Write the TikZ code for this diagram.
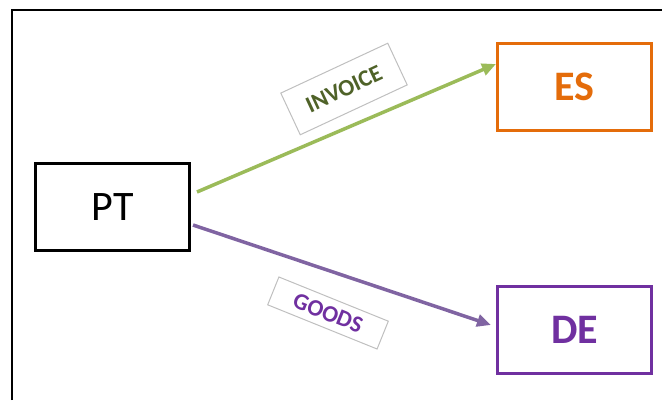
\documentclass[tikz,border=0pt]{standalone}
\usepackage{fontspec}
\setmainfont{Carlito}
\usetikzlibrary{arrows.meta}
\definecolor{esorange}{HTML}{E46C0A}
\definecolor{depurple}{HTML}{7030A0}
\definecolor{invgreen}{HTML}{9BBB59}
\definecolor{invtext}{HTML}{4F6228}
\definecolor{gdsline}{HTML}{8064A2}
\definecolor{tagline}{HTML}{BFBFBF}
\tikzstyle{country}=[shape=rectangle, draw, line width=3pt, minimum width=154pt, minimum height=87pt, inner sep=0pt, font=\fontsize{42}{50}\selectfont]
\tikzset{tag/.style={draw=tagline, line width=1pt, minimum width=118pt, inner sep=0pt, font=\fontsize{23.5}{28}\selectfont\bfseries}}
\tikzset{flow/.style={line width=3.5pt, -{Triangle[length=14pt,width=12pt]}}}

\begin{document}
\begin{tikzpicture}[x=1pt,y=1pt]
	\useasboundingbox (0,0) rectangle (662,400);
	\draw [line width=2.2pt] (12,0) -- (12,390) -- (662,390);
	\node [style=country] (pt) at (112.5,193) {PT};
	\node [style=country, draw=esorange, text=esorange, font=\fontsize{42}{50}\selectfont\bfseries] (es) at (574.5,313) {ES};
	\node [style=country, draw=depurple, text=depurple, font=\fontsize{42}{50}\selectfont\bfseries] (de) at (574.5,70) {DE};
	\node [style=tag, minimum height=46pt, text=invtext, rotate=25] (inv) at (344,311) {INVOICE};
	\node [style=tag, minimum height=30pt, text=depurple, rotate=-22] (gds) at (328,87) {GOODS};
	\draw [style=flow, invgreen] ([shift={(6,15)}]pt.east) to ([yshift=23]es.west);
	\draw [style=flow, gdsline] ([shift={(2,-18)}]pt.east) to ([shift={(-5,5)}]de.west);
\end{tikzpicture}
\end{document}
